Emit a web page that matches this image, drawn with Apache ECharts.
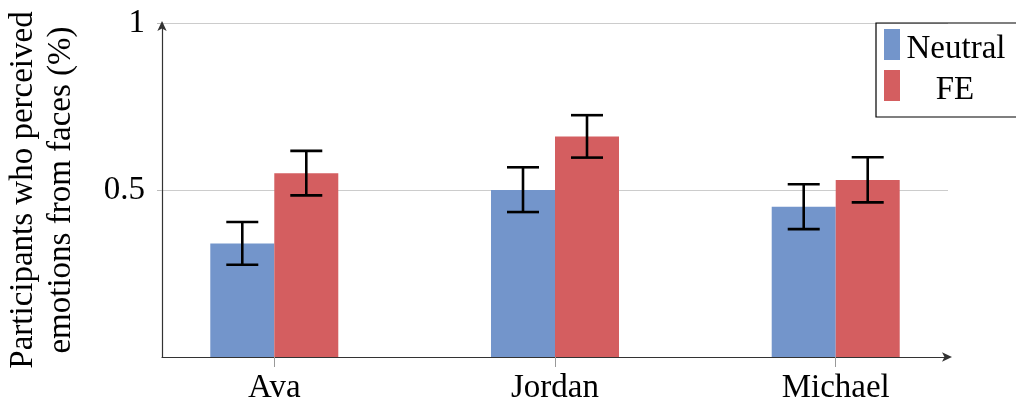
<!DOCTYPE html>
<html>
<head>
<meta charset="utf-8">
<script src="https://cdn.jsdelivr.net/npm/echarts@6/dist/echarts.min.js"></script>
<style>html,body{margin:0;padding:0;background:#fff;}#c{width:1016px;height:408px;}</style>
</head>
<body>
<div id="c"></div>
<script>
const categories = ['Ava', 'Jordan', 'Michael'];
const seriesNames = ['Neutral', 'FE'];
const neutralValues = [0.34, 0.50, 0.45];
const neutralLow = [0.276, 0.434, 0.383];
const neutralHigh = [0.404, 0.568, 0.517];
const feValues = [0.55, 0.66, 0.53];
const feLow = [0.484, 0.597, 0.463];
const feHigh = [0.617, 0.724, 0.598];
const yTicks = [0.5, 1];
const yTickLabels = ['0.5', '1'];
const yTitleLines = ['Participants who perceived', 'emotions from faces (%)'];

const FONT = 'Liberation Serif';
const FS = 33;
const FONT_SHORT = FS + 'px "Liberation Serif"';
const BAR_W = 64;
const colors = ['#7395cb', '#d45e60'];

const catPos = categories.map((c, i) => i + 1);
function barData(vals) { return vals.map((v, i) => [catPos[i], v]); }
function errData(lo, hi) { return lo.map((l, i) => [catPos[i], l, hi[i]]); }

function errSeries(lo, hi, offset) {
  return {
    type: 'custom',
    xAxisIndex: 0, yAxisIndex: 0,
    z: 5,
    silent: true,
    data: errData(lo, hi),
    encode: { x: 0, y: [1, 2] },
    renderItem: function (params, api) {
      const x = api.value(0);
      const pLo = api.coord([x, api.value(1)]);
      const pHi = api.coord([x, api.value(2)]);
      const cx = pLo[0] + offset;
      const hw = 16;
      const st = { stroke: '#000', lineWidth: 2.6 };
      return {
        type: 'group',
        children: [
          { type: 'line', shape: { x1: cx, y1: pLo[1], x2: cx, y2: pHi[1] }, style: st },
          { type: 'line', shape: { x1: cx - hw, y1: pLo[1], x2: cx + hw, y2: pLo[1] }, style: st },
          { type: 'line', shape: { x1: cx - hw, y1: pHi[1], x2: cx + hw, y2: pHi[1] }, style: st }
        ]
      };
    }
  };
}

function txt(text, x, y, rot) {
  return {
    type: 'text', x: x, y: y, rotation: rot || 0, z: 100,
    style: {
      text: text, font: FONT_SHORT, fill: '#000',
      align: 'center', verticalAlign: 'middle'
    }
  };
}

const chart = echarts.init(document.getElementById('c'));
chart.setOption({
  animation: false,
  grid: { left: 162, right: 68, top: 23, bottom: 51, outerBoundsMode: 'none' },
  legend: {
    data: seriesNames,
    orient: 'vertical',
    left: 876, top: 23,
    padding: [6, 200, 16, 8],
    itemGap: 10,
    icon: 'rect',
    itemWidth: 16, itemHeight: 31,
    borderColor: '#000', borderWidth: 1.2, borderRadius: 0,
    formatter: function () { return ''; },
    textStyle: { fontSize: 12 }
  },
  graphic: [
    txt(yTitleLines[0], 23, 190, Math.PI / 2),
    txt(yTitleLines[1], 61, 190, Math.PI / 2),
    txt(seriesNames[0], 956, 49),
    txt(seriesNames[1], 955, 90)
  ],
  xAxis: {
    type: 'value', min: 0.6, max: 3.4,
    axisLine: { show: true, lineStyle: { color: '#333', width: 1.2 }, symbol: ['none', 'arrow'], symbolSize: [7, 10], symbolOffset: [0, 4] },
    axisTick: { show: true, customValues: catPos, length: 10, lineStyle: { color: '#999', width: 1 } },
    axisLabel: {
      customValues: catPos, margin: 15,
      fontFamily: FONT, fontSize: FS, color: '#000',
      formatter: function (v) { return categories[Math.round(v) - 1] || ''; }
    },
    splitLine: { show: false }
  },
  yAxis: {
    type: 'value', min: 0, max: 1,
    axisLine: { show: true, lineStyle: { color: '#333', width: 1.2 }, symbol: ['none', 'arrow'], symbolSize: [7, 10], symbolOffset: [0, 2] },
    axisTick: { show: true, customValues: yTicks, length: 5, lineStyle: { color: '#bbb' } },
    axisLabel: {
      customValues: yTicks, margin: 17,
      fontFamily: FONT, fontSize: FS, color: '#000',
      formatter: function (v) { const i = yTicks.indexOf(v); return i >= 0 ? yTickLabels[i] : ''; }
    },
    splitLine: { show: true, lineStyle: { color: '#cccccc', width: 1.2 } }
  },
  series: [
    { name: seriesNames[0], type: 'bar', data: barData(neutralValues), barWidth: BAR_W, barGap: '0%', itemStyle: { color: colors[0] }, z: 2 },
    { name: seriesNames[1], type: 'bar', data: barData(feValues), barWidth: BAR_W, barGap: '0%', itemStyle: { color: colors[1] }, z: 2 },
    errSeries(neutralLow, neutralHigh, -BAR_W / 2),
    errSeries(feLow, feHigh, BAR_W / 2)
  ]
});
</script>
</body>
</html>
